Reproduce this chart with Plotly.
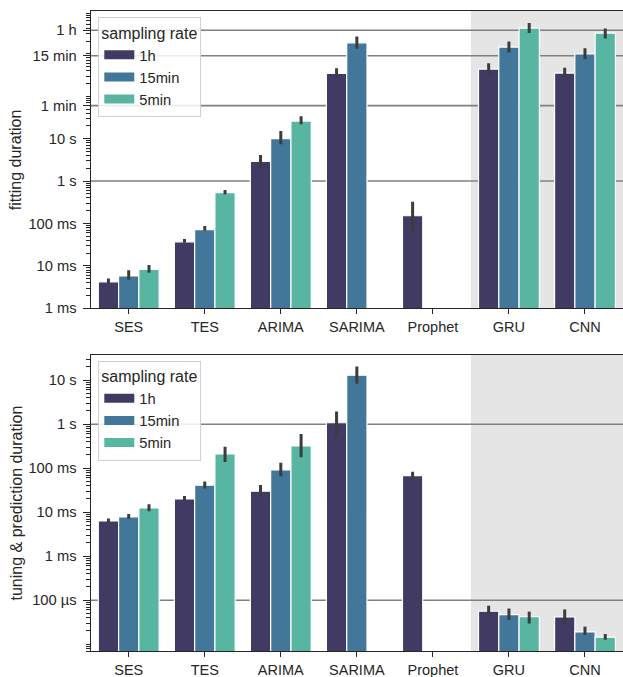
import plotly.graph_objects as go
from plotly.subplots import make_subplots

models = ["SES", "TES", "ARIMA", "SARIMA", "Prophet", "GRU", "CNN"]
rates = ["1h", "15min", "5min"]
colors = ["#413b64", "#42779a", "#58b5a2"]

# fitting duration (seconds): mean, upper and lower CI bounds
fit_1h = [4.2e-3, 0.037, 2.9, 347, 0.152, 437, 352]
fit_1h_hi = [5.07e-3, 0.0429, 4.1, 457, 0.325, 603, 468]
fit_1h_lo = [3.9e-3, 0.0351, 2.06, 275, 0.0676, 331, 282]
fit_15 = [5.8e-3, 0.072, 10.0, 1820, None, 1440, 990]
fit_15_hi = [7.9e-3, 0.087, 15.1, 2570, None, 1950, 1350]
fit_15_lo = [4.7e-3, 0.0676, 7.4, 1320, None, 1070, 741]
fit_5 = [8.3e-3, 0.53, 26.0, None, None, 4060, 3090]
fit_5_hi = [0.0105, 0.617, 33.9, None, None, 5370, 3980]
fit_5_lo = [6.9e-3, 0.49, 21.9, None, None, 3090, 2290]

# tuning & prediction duration (seconds)
tp_1h = [6.3e-3, 0.020, 0.030, 1.08, 0.068, 56e-6, 41.5e-6]
tp_1h_hi = [7.2e-3, 0.0234, 0.0417, 1.95, 0.083, 75e-6, 61.7e-6]
tp_1h_lo = [5.75e-3, 0.019, 0.0219, 0.49, 0.056, 42.7e-6, 28.8e-6]
tp_15 = [7.8e-3, 0.041, 0.091, 13.0, None, 47e-6, 19e-6]
tp_15_hi = [9.1e-3, 0.050, 0.133, 20.4, None, 64.6e-6, 25.1e-6]
tp_15_lo = [7.1e-3, 0.0347, 0.066, 8.3, None, 35.5e-6, 16.2e-6]
tp_5 = [12.5e-3, 0.21, 0.32, None, None, 42e-6, 14.4e-6]
tp_5_hi = [0.0151, 0.309, 0.60, None, None, 55e-6, 17e-6]
tp_5_lo = [0.0105, 0.138, 0.178, None, None, 29.5e-6, 12.6e-6]

fit_ticks = [1e-3, 1e-2, 1e-1, 1, 10, 60, 900, 3600]
fit_ticktext = ["1 ms", "10 ms", "100 ms", "1 s", "10 s", "1 min", "15 min", "1 h"]
fit_lines = [1, 60, 900, 3600]
tp_ticks = [1e-4, 1e-3, 1e-2, 1e-1, 1, 10]
tp_ticktext = ["100 µs", "1 ms", "10 ms", "100 ms", "1 s", "10 s"]
tp_lines = [1e-4, 1]

font = "Liberation Sans, Arial, sans-serif"
ink = "#262626"


def minors(lo, hi, majors):
    out = []
    for k in range(lo, hi + 1):
        for m in range(1, 10):
            v = m * 10.0 ** k
            if all(abs(v - t) / t > 1e-6 for t in majors):
                out.append(v)
    return out


fig = make_subplots(rows=2, cols=1)

panels = [
    (1, [(fit_1h, fit_1h_hi, fit_1h_lo), (fit_15, fit_15_hi, fit_15_lo), (fit_5, fit_5_hi, fit_5_lo)], "legend"),
    (2, [(tp_1h, tp_1h_hi, tp_1h_lo), (tp_15, tp_15_hi, tp_15_lo), (tp_5, tp_5_hi, tp_5_lo)], "legend2"),
]

for row, series, leg in panels:
    for (vals, hi, lo), name, col in zip(series, rates, colors):
        plus = [None if v is None else h - v for v, h in zip(vals, hi)]
        minus = [None if v is None else v - l for v, l in zip(vals, lo)]
        fig.add_trace(
            go.Bar(
                x=models, y=vals, name=name, showlegend=False,
                marker=dict(color=col, line=dict(color="white", width=1.2)),
                error_y=dict(type="data", symmetric=False, array=plus, arrayminus=minus,
                             color="#3c3c3c", thickness=3, width=0),
            ),
            row=row, col=1,
        )
    # legend entries drawn as wide colour patches
    for name, col in zip(rates, colors):
        fig.add_trace(
            go.Scatter(x=[None], y=[None], mode="lines", name=name, legend=leg,
                       line=dict(color=col, width=9), showlegend=True, hoverinfo="skip"),
            row=row, col=1,
        )

fig.update_layout(
    width=623, height=677,
    margin=dict(l=0, r=0, t=0, b=0),
    paper_bgcolor="white", plot_bgcolor="white",
    barmode="group", bargap=0.2, bargroupgap=0,
    font=dict(family=font, size=14.7, color=ink),
    showlegend=True,
)

xdom = [90.7 / 623, 1.0]
ydom_top = [1 - 308.3 / 677, 1 - 11 / 677]
ydom_bot = [1 - 651 / 677, 1 - 355 / 677]

for xa in ("xaxis", "xaxis2"):
    fig.layout[xa].update(
        domain=xdom, range=[-0.5, 6.5], showline=True, linecolor=ink, linewidth=1.3,
        mirror=True, ticks="outside", ticklen=5, tickwidth=1.3, tickcolor=ink,
        showgrid=False, zeroline=False, automargin=False,
        tickfont=dict(family=font, size=14.5, color=ink),
    )

fig.update_yaxes(
    type="log", showline=True, linecolor=ink, linewidth=1.3, mirror=False,
    ticks="outside", ticklen=7, tickwidth=1.3, tickcolor=ink, showgrid=False,
    zeroline=False, automargin=False, ticklabelstandoff=3,
)
fig.layout.yaxis.update(
    domain=ydom_top, range=[-3, 4.01], tickmode="array", tickvals=fit_ticks, ticktext=fit_ticktext,
    minor=dict(tickmode="array", tickvals=minors(-3, 3, fit_ticks), ticks="outside",
               ticklen=4, tickwidth=1, tickcolor=ink, showgrid=False),
)
fig.layout.yaxis2.update(
    domain=ydom_bot, range=[-5.155, 1.573], tickmode="array", tickvals=tp_ticks, ticktext=tp_ticktext,
    minor=dict(tickmode="array", tickvals=minors(-6, 1, tp_ticks), ticks="outside",
               ticklen=4, tickwidth=1, tickcolor=ink, showgrid=False),
)

shapes = []
for xr, yr, lines in (("x", "y", fit_lines), ("x2", "y2", tp_lines)):
    shapes.append(dict(type="rect", xref=xr, yref=yr + " domain", x0=4.5, x1=6.5, y0=0, y1=1,
                       fillcolor="#e5e5e5", line=dict(width=0), layer="below"))
    for v in lines:
        shapes.append(dict(type="line", xref=xr + " domain", yref=yr, x0=0, x1=1, y0=v, y1=v,
                           line=dict(color="#808080", width=1.6), layer="below"))
fig.update_layout(shapes=shapes)

legend_style = dict(
    bgcolor="rgba(255,255,255,0.85)", bordercolor="#d0d0d0", borderwidth=1,
    font=dict(family=font, size=14.7, color=ink), itemwidth=30,
    entrywidth=75, entrywidthmode="pixels",
    title=dict(text="sampling rate", font=dict(family=font, size=16, color=ink)),
    xanchor="left", yanchor="top", tracegroupgap=0,
)
fig.update_layout(
    legend=dict(x=98.3 / 623, y=1 - 17 / 677, **legend_style),
    legend2=dict(x=98.3 / 623, y=1 - 360.5 / 677, **legend_style),
)

fig.add_annotation(text="fitting duration", textangle=-90, xref="paper", yref="paper",
                   x=15.5 / 623, y=(ydom_top[0] + ydom_top[1]) / 2, xanchor="center", yanchor="middle",
                   showarrow=False, font=dict(family=font, size=16, color=ink))
fig.add_annotation(text="tuning & prediction duration", textangle=-90, xref="paper", yref="paper",
                   x=15.5 / 623, y=(ydom_bot[0] + ydom_bot[1]) / 2, xanchor="center", yanchor="middle",
                   showarrow=False, font=dict(family=font, size=16, color=ink))

fig.write_html("out.html", config={"displayModeBar": False},
               post_script="document.body.style.margin='0';")
